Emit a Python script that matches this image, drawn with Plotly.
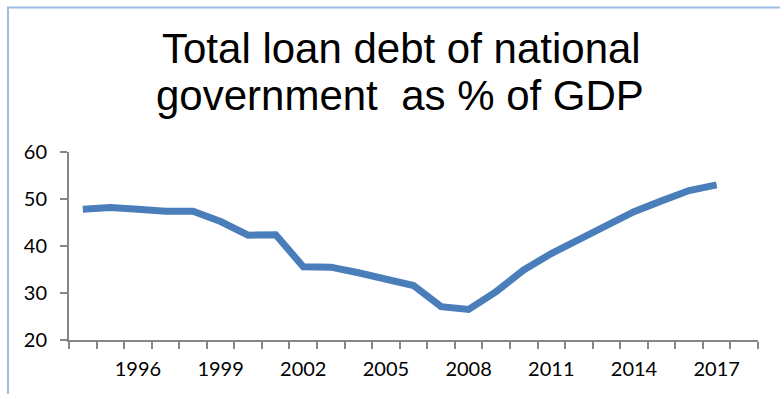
import plotly.graph_objects as go

# Total loan debt of national government, % of GDP
years = [1994, 1995, 1996, 1997, 1998, 1999, 2000, 2001, 2002, 2003, 2004, 2005,
         2006, 2007, 2008, 2009, 2010, 2011, 2012, 2013, 2014, 2015, 2016, 2017]
debt_pct = [47.8, 48.2, 47.8, 47.4, 47.4, 45.2, 42.3, 42.4, 35.6, 35.5, 34.3, 33.1,
            31.6, 27.1, 26.5, 30.3, 34.9, 38.4, 41.3, 44.5, 47.3, 49.6, 51.8, 53.0]
label_years = [1996, 1999, 2002, 2005, 2008, 2011, 2014, 2017]
y_ticks = [20, 30, 40, 50, 60]
title_lines = ["Total loan debt of national", "government  as % of GDP"]

W, H = 780, 394
L, R, T, B = 69, 22, 152, 54
plot_w, plot_h = W - L - R, H - T - B


def px_x(p):
    return (p - L) / plot_w


def px_y(p):
    return (H - B - p) / plot_h


axis_grey = "#868686"
tick_font = dict(family="Lato, sans-serif", size=20, color="black")
title_font = dict(family="Liberation Sans, Arial, sans-serif", size=42, color="black")

fig = go.Figure()
fig.add_trace(go.Scatter(
    x=years, y=debt_pct, mode="lines",
    line=dict(color="#4a7ebb", width=7),
    hoverinfo="x+y", showlegend=False,
))

fig.update_layout(
    width=W, height=H,
    margin=dict(l=L, r=R, t=T, b=B),
    paper_bgcolor="white", plot_bgcolor="white",
    font=dict(family="Lato, sans-serif", color="black", size=20),
    xaxis=dict(
        range=[years[0] - 0.5, years[-1] + 1.5],
        tickmode="array", tickvals=label_years,
        ticks="", showgrid=False, zeroline=False,
        showline=True, linecolor=axis_grey, linewidth=2,
        ticklabelstandoff=10, automargin=False,
        tickfont=tick_font,
        minor=dict(ticks="outside", tickmode="linear", tick0=years[0] - 0.5, dtick=1,
                   ticklen=7, tickwidth=2, tickcolor=axis_grey, showgrid=False),
        fixedrange=True,
    ),
    yaxis=dict(
        range=[y_ticks[0], y_ticks[-1]],
        tickmode="array", tickvals=y_ticks,
        ticks="outside", ticklen=7, tickwidth=2, tickcolor=axis_grey,
        showgrid=False, zeroline=False,
        showline=True, linecolor=axis_grey, linewidth=2,
        ticklabelstandoff=9, automargin=False,
        tickfont=tick_font,
        fixedrange=True,
    ),
    shapes=[dict(
        type="rect", xref="paper", yref="paper",
        x0=px_x(8), x1=px_x(800), y0=px_y(420), y1=px_y(7.5),
        line=dict(color="#9dbbe3", width=2), fillcolor="rgba(0,0,0,0)",
        layer="below",
    )],
    annotations=[
        dict(text=title_lines[0], xref="paper", yref="paper",
             x=px_x(401), y=px_y(48), xanchor="center", yanchor="middle",
             showarrow=False, font=title_font),
        dict(text=title_lines[1], xref="paper", yref="paper",
             x=px_x(400), y=px_y(95), xanchor="center", yanchor="middle",
             showarrow=False, font=title_font),
    ],
)

fig.write_html("out.html")
